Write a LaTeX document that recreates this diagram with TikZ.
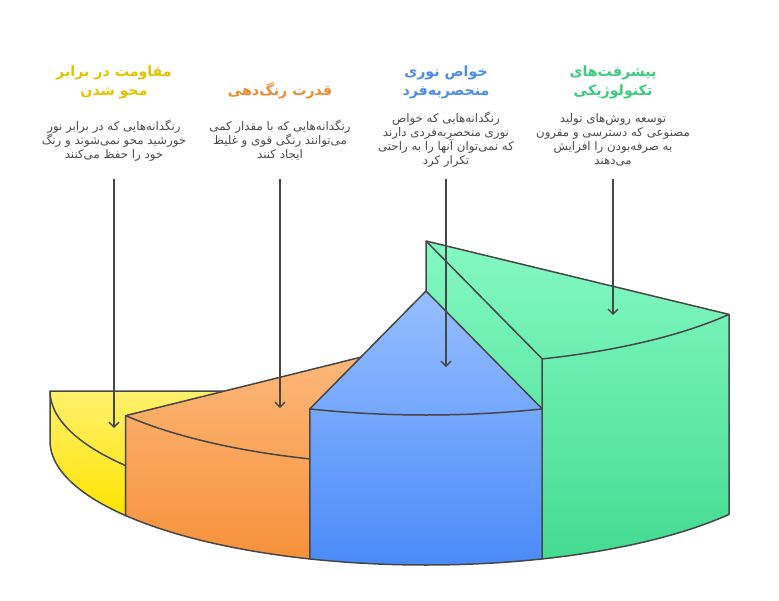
\documentclass[tikz,border=0pt]{standalone}
\usepackage{fontspec}
\usetikzlibrary{arrows.meta}
\TeXXeTstate=1
\newfontfamily\arabicfont[Script=Arabic]{DejaVu Sans}
\newcommand{\rl}[1]{\beginR#1\endR}

\definecolor{edgegray}{HTML}{474747}
\definecolor{textgray}{HTML}{4A4A4A}
\definecolor{yellowtop}{HTML}{FFF06E}
\definecolor{yellowbot}{HTML}{FFE400}
\definecolor{orangetop}{HTML}{FDBA7E}
\definecolor{orangebot}{HTML}{F7913A}
\definecolor{bluetop}{HTML}{97BEFF}
\definecolor{bluebot}{HTML}{4A8BF9}
\definecolor{greentop}{HTML}{84F9C3}
\definecolor{greenbot}{HTML}{44DB91}
\definecolor{yellowtitle}{HTML}{E3C300}
\definecolor{orangetitle}{HTML}{EF8A2E}
\definecolor{bluetitle}{HTML}{4C8CEF}
\definecolor{greentitle}{HTML}{3DCB7F}

\begin{document}
\begin{tikzpicture}[
        x=1pt, y=-1pt,
        >={Straight Barb[length=5pt,width=10pt]},
        sliceedge/.style={draw=edgegray, line width=1.5pt, line join=round},
        titlenode/.style={anchor=south, align=center, font=\arabicfont\bfseries\fontsize{14.2}{19}\selectfont},
        descnode/.style={align=center, text=textgray, font=\arabicfont\fontsize{11.8}{14}\selectfont},
        pointer/.style={->, draw=edgegray, line width=1.4pt}
    ]
    \useasboundingbox (0,0) rectangle (779,600);

    % Yellow slice
    \path[sliceedge, top color=yellowtop, bottom color=yellowbot]
        (426,391) -- (50,391) -- (50,441)
        -- plot[domain=180:143, samples=25, variable=\t] ({426+376*cos(\t)},{441+124*sin(\t)})
        -- (125.7,465.6) -- cycle;
    \draw[sliceedge] plot[domain=180:143, samples=25, variable=\t] ({426+376*cos(\t)},{391+124*sin(\t)});

    % Orange slice
    \path[sliceedge, top color=orangetop, bottom color=orangebot]
        (426,341) -- (125.7,415.6) -- (125.7,515.6)
        -- plot[domain=143:108, samples=25, variable=\t] ({426+376*cos(\t)},{441+124*sin(\t)})
        -- (309.8,458.9) -- cycle;
    \draw[sliceedge] plot[domain=143:108, samples=25, variable=\t] ({426+376*cos(\t)},{341+124*sin(\t)});

    % Green slice
    \path[sliceedge, top color=greentop, bottom color=greenbot]
        (426,241) -- (729,314.4) -- (729,514.4)
        -- plot[domain=36.3:72, samples=25, variable=\t] ({426+376*cos(\t)},{441+124*sin(\t)})
        -- (426,441) -- cycle;
    \draw[sliceedge] (426,241) -- (542.2,358.9) -- (542.2,558.9);
    \draw[sliceedge] plot[domain=72:36.3, samples=25, variable=\t] ({426+376*cos(\t)},{241+124*sin(\t)});

    % Blue slice
    \path[sliceedge, top color=bluetop, bottom color=bluebot]
        (426,291) -- (309.8,408.9) -- (309.8,558.9)
        -- plot[domain=108:72, samples=25, variable=\t] ({426+376*cos(\t)},{441+124*sin(\t)})
        -- (542.2,408.9) -- cycle;
    \draw[sliceedge] plot[domain=108:72, samples=25, variable=\t] ({426+376*cos(\t)},{291+124*sin(\t)});

    % Titles
    \node[titlenode, text=yellowtitle] (TitleFade) at (114,102) {\rl{مقاومت در برابر}\\\rl{محو شدن}};
    \node[titlenode, text=orangetitle] (TitleTint) at (280,102) {\rl{قدرت رنگ^^^^200cدهی}};
    \node[titlenode, text=bluetitle] (TitleOptic) at (446,102) {\rl{خواص نوری}\\\rl{منحصربه^^^^200cفرد}};
    \node[titlenode, text=greentitle] (TitleTech) at (613,102) {\rl{پیشرفت^^^^200cهای}\\\rl{تکنولوژیکی}};

    % Descriptions
    \node[descnode] (DescFade) at (114,141) {\rl{رنگدانه^^^^200cهایی که در برابر نور}\\\rl{خورشید محو نمی^^^^200cشوند و رنگ}\\\rl{خود را حفظ می^^^^200cکنند}};
    \node[descnode] (DescTint) at (280,140) {\rl{رنگدانه^^^^200cهایی که با مقدار کمی}\\\rl{می^^^^200cتوانند رنگی قوی و غلیظ}\\\rl{ایجاد کنند}};
    \node[descnode] (DescOptic) at (446,140) {\rl{رنگدانه^^^^200cهایی که خواص}\\\rl{نوری منحصربه^^^^200cفردی دارند}\\\rl{که نمی^^^^200cتوان آنها را به راحتی}\\\rl{تکرار کرد}};
    \node[descnode] (DescTech) at (613,140) {\rl{توسعه روش^^^^200cهای تولید}\\\rl{مصنوعی که دسترسی و مقرون}\\\rl{به صرفه^^^^200cبودن را افزایش}\\\rl{می^^^^200cدهند}};

    % Pointers
    \coordinate (StartFade) at (114,179);
    \coordinate (TipFade) at (114,428);
    \coordinate (StartTint) at (280,179);
    \coordinate (TipTint) at (280,408);
    \coordinate (StartOptic) at (446,179);
    \coordinate (TipOptic) at (446,367);
    \coordinate (StartTech) at (613,179);
    \coordinate (TipTech) at (613,315);

    \draw[pointer] (StartFade) -- (TipFade);
    \draw[pointer] (StartTint) -- (TipTint);
    \draw[pointer] (StartOptic) -- (TipOptic);
    \draw[pointer] (StartTech) -- (TipTech);

\end{tikzpicture}
\end{document}
